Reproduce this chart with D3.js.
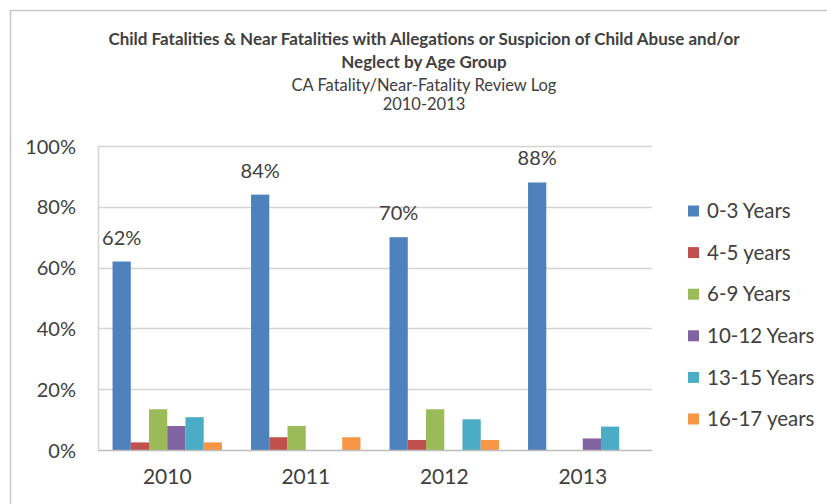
<!DOCTYPE html>
<html>
<head>
<meta charset="utf-8">
<script src="https://cdn.jsdelivr.net/npm/d3@7"></script>
<style>
  html, body { margin: 0; padding: 0; background: #fff; }
  svg { display: block; }
  text { font-family: Lato, "Open Sans", sans-serif; fill: #404040; }
</style>
</head>
<body>
<svg id="chart" width="827" height="504"></svg>
<script>
const years = ["2010", "2011", "2012", "2013"];
const seriesNames = ["0-3 Years", "4-5 years", "6-9 Years", "10-12 Years", "13-15 Years", "16-17 years"];
const seriesColors = ["#4F81BD", "#C0504D", "#9BBB59", "#8064A2", "#4BACC6", "#F79646"];
const age0to3 = [62, 84, 70, 88];
const age4to5 = [2.5, 4.2, 3.3, 0];
const age6to9 = [13.4, 7.9, 13.4, 0];
const age10to12 = [7.9, 0, 0, 3.8];
const age13to15 = [10.8, 0, 10.1, 7.7];
const age16to17 = [2.5, 4.2, 3.3, 0];
const yTicks = [0, 20, 40, 60, 80, 100];
const titleLines = ["Child Fatalities & Near Fatalities with Allegations or Suspicion of Child Abuse and/or", "Neglect by Age Group"];
const subtitleLines = ["CA Fatality/Near-Fatality Review Log", "2010-2013"];

const seriesValues = [age0to3, age4to5, age6to9, age10to12, age13to15, age16to17];

const svg = d3.select("#chart");

// outer chart frame
svg.append("rect").attr("x", 10.5).attr("y", 10.5).attr("width", 830).attr("height", 510)
  .attr("fill", "none").attr("stroke", "#c8c8c8").attr("stroke-width", 1.5);

const plot = { left: 98, right: 652, top: 146, bottom: 450 };

const x0 = d3.scaleBand().domain(years).range([plot.left, plot.right]).paddingInner(0.21).paddingOuter(0.105);
const x1 = d3.scaleBand().domain(seriesNames).range([0, x0.bandwidth()]);
const y = d3.scaleLinear().domain([0, 100]).range([plot.bottom, plot.top]);

// gridlines
svg.append("g").selectAll("line").data(yTicks.filter(t => t > 0)).join("line")
  .attr("x1", plot.left).attr("x2", plot.right)
  .attr("y1", d => Math.round(y(d)) + 0.5).attr("y2", d => Math.round(y(d)) + 0.5)
  .attr("stroke", "#d4d4d4").attr("stroke-width", 1.5);

// vertical axis line
svg.append("line").attr("x1", plot.left + 0.5).attr("x2", plot.left + 0.5)
  .attr("y1", plot.top).attr("y2", plot.bottom).attr("stroke", "#d4d4d4").attr("stroke-width", 1.5);

// y tick labels
const yAxis = d3.axisLeft(y).tickValues(yTicks).tickFormat(d => d + "%").tickSize(0).tickPadding(22);
const gy = svg.append("g").attr("transform", `translate(${plot.left},0)`).call(yAxis);
gy.select(".domain").remove();
gy.selectAll("text").style("font-family", "Lato, sans-serif").attr("font-size", 20).attr("fill", "#3a3a3a").attr("dy", "0.35em");

// bars
const groups = svg.append("g").selectAll("g").data(years).join("g")
  .attr("transform", d => `translate(${x0(d)},0)`);
groups.selectAll("rect").data((yr, i) => seriesNames.map((s, j) => ({ s, j, v: seriesValues[j][i] })))
  .join("rect")
  .attr("x", d => x1(d.s)).attr("width", x1.bandwidth())
  .attr("y", d => y(d.v)).attr("height", d => y(0) - y(d.v))
  .attr("fill", d => seriesColors[d.j]);

// baseline
svg.append("line").attr("x1", plot.left).attr("x2", plot.right)
  .attr("y1", plot.bottom + 0.5).attr("y2", plot.bottom + 0.5).attr("stroke", "#bdbdbd").attr("stroke-width", 1.5);

// data labels on 0-3 Years bars
svg.append("g").selectAll("text").data(years).join("text")
  .attr("x", d => x0(d) + x1(seriesNames[0]) + x1.bandwidth() / 2)
  .attr("y", (d, i) => y(age0to3[i]) - 17)
  .attr("text-anchor", "middle").attr("font-size", 20)
  .text((d, i) => d3.format(".0f")(age0to3[i]) + "%");

// x axis labels
const xAxis = d3.axisBottom(x0).tickSize(0).tickPadding(19);
const gx = svg.append("g").attr("transform", `translate(0,${plot.bottom})`).call(xAxis);
gx.select(".domain").remove();
gx.selectAll("text").style("font-family", "Lato, sans-serif").attr("font-size", 21).attr("fill", "#3a3a3a");

// titles
const cx = 424;
svg.append("g").selectAll("text").data(titleLines).join("text")
  .attr("x", cx).attr("y", (d, i) => 45 + i * 23)
  .attr("text-anchor", "middle").attr("font-size", 17).attr("font-weight", "bold").attr("fill", "#1a1a1a")
  .text(d => d);
svg.append("g").selectAll("text").data(subtitleLines).join("text")
  .attr("x", cx).attr("y", (d, i) => 91 + i * 19)
  .attr("text-anchor", "middle").attr("font-size", 16.5).attr("fill", "#404040")
  .text(d => d);

// legend
const legend = svg.append("g").selectAll("g").data(seriesNames).join("g")
  .attr("transform", (d, i) => `translate(688,${211 + i * 41.6})`);
legend.append("rect").attr("x", 0).attr("y", -5.5).attr("width", 11).attr("height", 11)
  .attr("fill", (d, i) => seriesColors[i]);
legend.append("text").attr("x", 19).attr("y", 0).attr("dy", "0.35em")
  .attr("font-size", 20.5).text(d => d);
</script>
</body>
</html>
